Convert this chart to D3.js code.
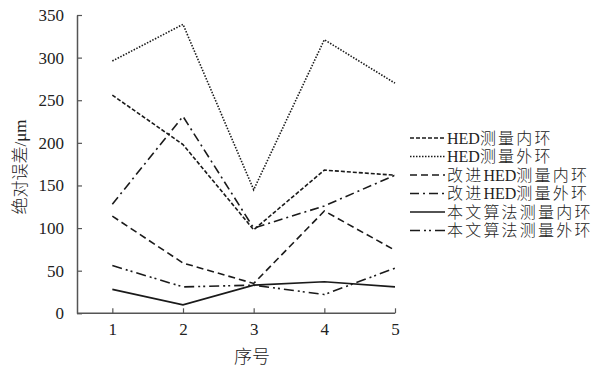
<!DOCTYPE html>
<html><head><meta charset="utf-8">
<script src="https://cdn.jsdelivr.net/npm/d3@7"></script>
<style>body{margin:0;background:#fff}</style>
</head><body>
<svg id="c" width="601" height="368"></svg>
<script>
const categories = [1, 2, 3, 4, 5];
const yTicks = [0, 50, 100, 150, 200, 250, 300, 350];
const seriesNames = ["HED测量内环", "HED测量外环", "改进HED测量内环", "改进HED测量外环", "本文算法测量内环", "本文算法测量外环"];
const hedInner = [256, 198, 98, 168, 162];
const hedOuter = [296, 339, 145, 321, 270];
const impInner = [114, 59, 35, 120, 74];
const impOuter = [128, 231, 100, 126, 162];
const oursInner = [28, 10, 33, 37, 31];
const oursOuter = [56, 31, 33, 22, 53];
const seriesValues = [hedInner, hedOuter, impInner, impOuter, oursInner, oursOuter];
const dashes = ["4,2", "1.5,1.5", "7,4", "9,4,2,4", null, "10,4,2,3,2,4"];

const svg = d3.select("#c");
const x = d3.scaleLinear().domain([0.5, 5]).range([77, 395]);
const y = d3.scaleLinear().domain([0, 350]).range([313.3, 15]);
const serif = "'Liberation Serif','Times New Roman',serif";
const cjk = "'Noto Sans CJK SC',sans-serif";
const axisColor = "#555";

function richText(sel, str, cjkSpacing) {
  const runs = str.match(/[\u0000-\u02FF\u0370-\u03FF]+|[^\u0000-\u02FF\u0370-\u03FF]+/g);
  runs.forEach(r => {
    const latin = /^[\u0000-\u02FF\u0370-\u03FF]/.test(r);
    sel.append("tspan").attr("font-family", latin ? serif : cjk)
      .attr("font-weight", latin ? null : 300)
      .attr("letter-spacing", latin ? null : cjkSpacing)
      .text(r);
  });
}

const gx = svg.append("g").attr("transform", "translate(0,313.3)")
  .call(d3.axisBottom(x).tickValues(categories).tickSizeInner(-5).tickSizeOuter(0).tickPadding(10).tickFormat(d3.format("d")));
const gy = svg.append("g").attr("transform", "translate(77,0)")
  .call(d3.axisLeft(y).tickValues(yTicks).tickSizeInner(-5).tickSizeOuter(0).tickPadding(13));
[gx, gy].forEach(g => {
  g.select(".domain").attr("stroke", axisColor).attr("stroke-width", 1.5);
  g.selectAll(".tick line").attr("stroke", axisColor).attr("stroke-width", 1.2);
  g.selectAll("text").attr("font-family", serif).attr("font-size", 17).attr("fill", "#222");
});
gx.select(".domain").attr("d", "M77,0H395");
gx.selectAll(".tick text").attr("dy", "0.71em");

svg.append("text").attr("x", 252).attr("y", 363).attr("text-anchor", "middle")
  .attr("font-family", cjk).attr("font-weight", 300).attr("font-size", 18).attr("fill", "#222").text("序号");
const yt = svg.append("text").attr("transform", "translate(26,167) rotate(-90)").attr("text-anchor", "middle")
  .attr("font-size", 17).attr("fill", "#222");
richText(yt, "绝对误差/μm", null);

const line = d3.line().x((d, i) => x(categories[i])).y(d => y(d));
seriesValues.forEach((vals, k) => {
  svg.append("path").attr("d", line(vals)).attr("fill", "none")
    .attr("stroke", "#1a1a1a").attr("stroke-width", k === 4 ? 1.7 : 1.6)
    .attr("stroke-dasharray", dashes[k]);
});

const lg = svg.append("g");
seriesNames.forEach((n, k) => {
  const yy = 138 + k * 18.5;
  lg.append("line").attr("x1", 410).attr("x2", 445).attr("y1", yy).attr("y2", yy)
    .attr("stroke", "#1a1a1a").attr("stroke-width", 1.6).attr("stroke-dasharray", dashes[k]);
  const t = lg.append("text").attr("x", 447).attr("y", yy).attr("dy", "0.36em")
    .attr("font-size", 16).attr("fill", "#222");
  richText(t, n, 2.2);
});
</script>
</body></html>
